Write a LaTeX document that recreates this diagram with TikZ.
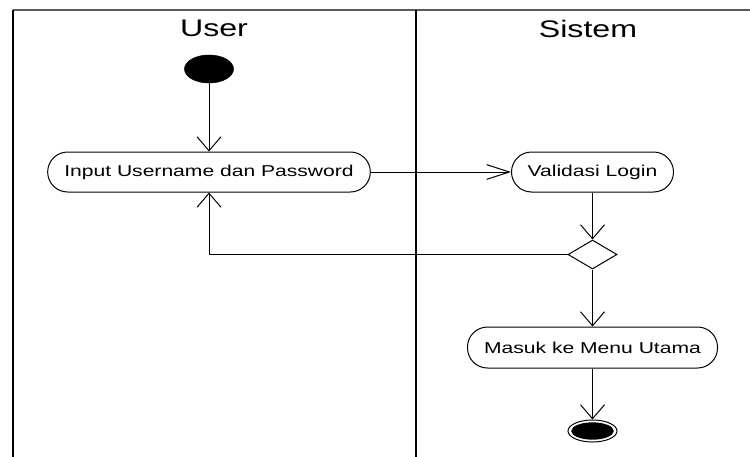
\documentclass[tikz,border=0pt]{standalone}
\usepackage{fontspec}
\newfontfamily\diagfont[FakeStretch=1.34]{Liberation Sans}
\usetikzlibrary{arrows.meta,shapes.geometric}

\begin{document}
\begin{tikzpicture}[
  x=0.75pt, y=-0.75pt,
  font=\diagfont,
  head/.style={font=\diagfont\fontsize{18}{20}\selectfont},
  act/.style={draw, line width=0.75pt, rectangle, rounded corners=15pt, minimum height=30pt, inner sep=0pt, fill=white, font=\diagfont\fontsize{11.8}{13}\selectfont},
  lane/.style={line width=1.6pt},
  flow/.style={-{Straight Barb[length=10.5pt, width=18pt]}, line width=0.75pt},
  flowH/.style={-{Straight Barb[length=17pt, width=11pt]}, line width=0.75pt}
]
\useasboundingbox (0,0) rectangle (750,457);

% Swimlanes
\draw[lane, black!65] (13,10) -- (750,10);
\draw[lane] (13,10) -- (13,457);
\draw[lane] (416,10) -- (416,457);
\node[head] (user) at (214,28.5) {User};
\node[head] (sistem) at (588,28.5) {Sistem};

% Start and activities
\node[draw, ellipse, fill=black, minimum width=36.75pt, minimum height=21pt, inner sep=0pt] (start) at (209,69) {};
\node[act, minimum width=242pt] (input) at (209,172) {Input Username dan Password};
\node[act, minimum width=121.5pt] (valid) at (592.5,172) {Validasi Login};
\node[draw, line width=0.75pt, diamond, minimum width=36.75pt, minimum height=21.75pt, inner sep=0pt] (cek) at (592.5,254.5) {};
\node[act, minimum width=187.5pt, minimum height=30.75pt] (menu) at (592.5,347.5) {Masuk ke Menu Utama};

% End
\node[draw, ellipse, line width=0.75pt, minimum width=36.75pt, minimum height=16.5pt, inner sep=0pt] (final) at (592.5,431) {};
\node[ellipse, fill=black, minimum width=32pt, minimum height=13pt, inner sep=0pt] (finalDot) at (final.center) {};

% Flow
\draw[flow] (start.south) -- (input.north);
\draw[flowH] (input.east) -- (valid.west);
\draw[flow] (valid.south) -- (cek.north);
\draw[flow] (cek.west) -| (input.south);
\draw[flow] (cek.south) -- (menu.north);
\draw[flow] (menu.south) -- (final.north);
\end{tikzpicture}
\end{document}
